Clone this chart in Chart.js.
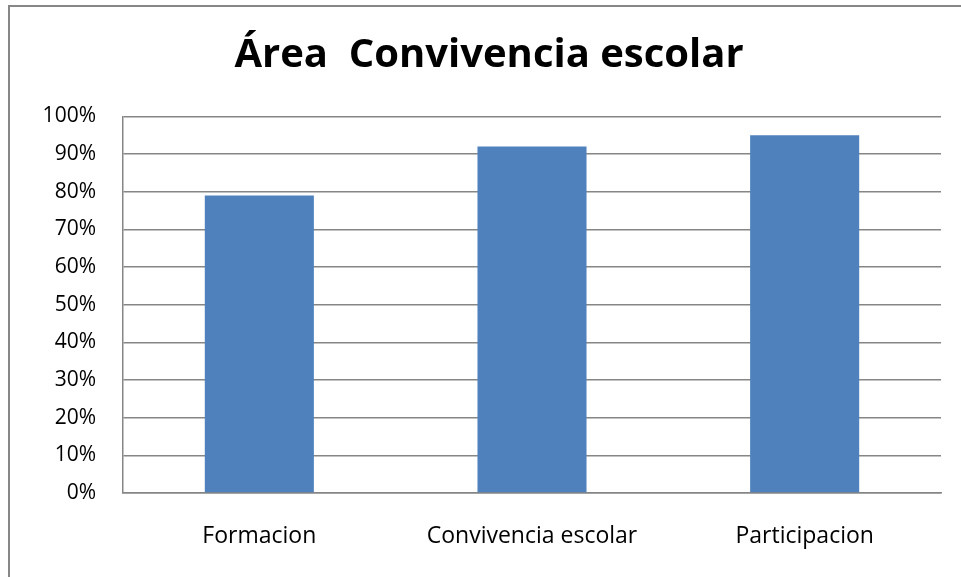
<!DOCTYPE html>
<html>
<head>
<meta charset="utf-8">
<script src="https://cdn.jsdelivr.net/npm/chart.js@4"></script>
<style>
  html, body { margin: 0; padding: 0; background: #fff; }
  #wrap { position: relative; width: 961px; height: 577px; overflow: hidden; }
  #frame { position: absolute; left: 8px; top: 5px; width: 1000px; height: 1000px;
           border-left: 2px solid #878787; border-top: 2px solid #878787; box-sizing: border-box; }
  canvas { position: absolute; left: 0; top: 0; }
</style>
</head>
<body>
<div id="wrap">
  <div id="frame"></div>
  <canvas id="c" width="961" height="577"></canvas>
</div>
<script>
const titleText = "Área  Convivencia escolar";
const categories = ["Formacion", "Convivencia escolar", "Participacion"];
const values = [79, 92, 95];
const tickMin = 0, tickMax = 100, tickStep = 10;

const FONT = "'Open Sans', sans-serif";

new Chart(document.getElementById('c'), {
  type: 'bar',
  data: {
    labels: categories,
    datasets: [{
      data: values,
      backgroundColor: '#4F81BD',
      borderWidth: 0,
      categoryPercentage: 1.0,
      barPercentage: 0.4
    }]
  },
  options: {
    responsive: false,
    animation: false,
    layout: { padding: { left: 37, right: 20, top: 0, bottom: 0 } },
    plugins: {
      legend: { display: false },
      tooltip: { enabled: false },
      title: {
        display: true,
        text: titleText,
        color: '#000',
        font: { family: FONT, size: 40, weight: 'bold', lineHeight: 1.2 },
        padding: { top: 32, bottom: 36.5 }
      }
    },
    scales: {
      x: {
        grid: { display: false, drawTicks: false },
        border: { display: true, color: '#868686', width: 1.5 },
        ticks: { color: '#000', font: { family: FONT, size: 23 }, padding: 30, maxRotation: 0 },
        afterFit: s => { s.height = 84; }
      },
      y: {
        min: tickMin, max: tickMax,
        grid: { color: '#868686', lineWidth: 1.5, drawTicks: false },
        border: { display: true, color: '#868686', width: 1.5 },
        ticks: {
          stepSize: tickStep, color: '#000', padding: 27,
          font: { family: FONT, size: 21 },
          callback: v => v + '%'
        },
        afterFit: s => { s.width = 86; }
      }
    }
  }
});
</script>
</body>
</html>
